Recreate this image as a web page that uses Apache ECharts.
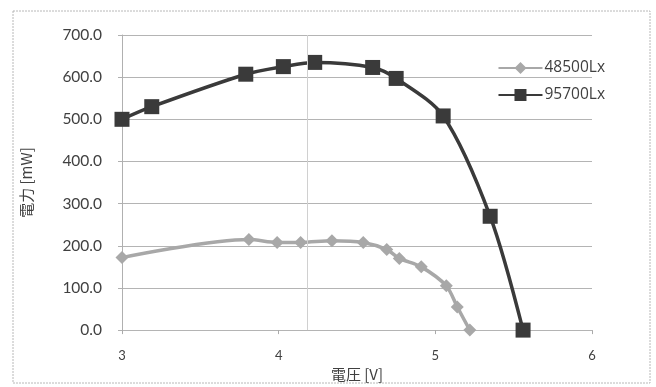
<!DOCTYPE html>
<html><head><meta charset="utf-8">
<script src="https://cdn.jsdelivr.net/npm/echarts@6/dist/echarts.min.js"></script>
<style>html,body{margin:0;padding:0;background:#fff}#c{width:656px;height:387px}</style>
</head><body><div id="c"></div>
<script>
const xLabelsMin = 3, xLabelsMax = 6;
const yTicks = [0, 100, 200, 300, 400, 500, 600, 700];
const seriesNames = ['48500Lx', '95700Lx'];
const v48500 = [3.0, 3.81, 3.99, 4.14, 4.34, 4.54, 4.69, 4.77, 4.91, 5.07, 5.14, 5.22];
const p48500 = [172, 215, 208, 208, 212, 208, 191, 170, 150, 105, 55, 0];
const v95700 = [3.0, 3.19, 3.79, 4.03, 4.23, 4.60, 4.75, 5.05, 5.35, 5.56];
const p95700 = [500, 530, 607, 625, 635, 623, 597, 508, 270, 0];
const artifactLineX = 4.18;

const pairs = (xs, ys) => xs.map((x, i) => [x, ys[i]]);
const chart = echarts.init(document.getElementById('c'));
const txt = '#404040';
chart.setOption({
  animation: false,
  backgroundColor: '#fff',
  graphic: [{type: 'rect', shape: {x: 13, y: 11, width: 637, height: 372},
    style: {fill: 'none', stroke: '#b8b8b8', lineWidth: 1, lineDash: [2, 1]}}],
  grid: {left: 122, right: 64, top: 35, bottom: 52, containLabel: false},
  legend: {
    right: 46, top: 55, orient: 'vertical', itemGap: 11, itemWidth: 44, itemHeight: 15,
    textStyle: {color: txt, fontSize: 15.5, fontFamily: '"Open Sans", sans-serif', padding: [0, 0, 0, -3]},
    data: seriesNames
  },
  xAxis: {
    type: 'value', min: xLabelsMin, max: xLabelsMax, interval: 1,
    name: '電圧 [V]', nameLocation: 'middle', nameGap: 31,
    nameTextStyle: {color: txt, fontSize: 15, fontFamily: '"Noto Sans CJK JP", sans-serif'},
    axisLine: {show: false},
    axisTick: {show: true, length: 4, lineStyle: {color: '#aaa'}},
    axisLabel: {color: txt, fontSize: 13, margin: 19, fontFamily: 'Lato, "Open Sans", sans-serif'},
    splitLine: {show: false}
  },
  yAxis: {
    type: 'value', min: 0, max: 700, interval: 100,
    name: '電力 [mW]', nameLocation: 'middle', nameGap: 88,
    nameTextStyle: {color: txt, fontSize: 15, fontFamily: '"Noto Sans CJK JP", sans-serif'},
    axisLine: {show: true, lineStyle: {color: '#b0b0b0'}},
    axisTick: {show: true, length: 4, lineStyle: {color: '#b0b0b0'}},
    axisLabel: {color: txt, fontSize: 15.5, margin: 20, fontFamily: 'Lato, "Open Sans", sans-serif',
      formatter: v => v.toFixed(1)},
    splitLine: {show: true, lineStyle: {color: '#b4b4b4', width: 1}}
  },
  series: [
    {
      name: seriesNames[0], type: 'line', data: pairs(v48500, p48500),
      smooth: 0.3, symbol: 'diamond', symbolSize: 13,
      lineStyle: {color: '#a8a8a8', width: 3.5},
      itemStyle: {color: '#a8a8a8'},
      markLine: {silent: true, symbol: 'none', label: {show: false},
        lineStyle: {color: '#d0d0d0', type: 'solid', width: 1},
        data: [{xAxis: artifactLineX}]}
    },
    {
      name: seriesNames[1], type: 'line', data: pairs(v95700, p95700),
      smooth: 0.3, symbol: 'rect', symbolSize: 15,
      lineStyle: {color: '#3a3a3a', width: 3.5},
      itemStyle: {color: '#3a3a3a'}
    }
  ]
});
</script></body></html>
